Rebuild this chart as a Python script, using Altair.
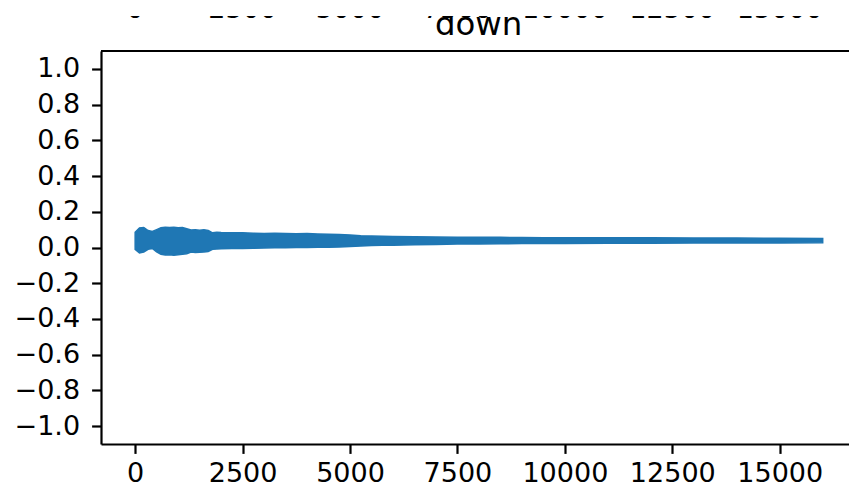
import altair as alt
import pandas as pd

# ---- data ----
xs = [0, 100, 200, 300, 400, 500, 600, 700, 800, 900, 1000, 1100, 1200, 1300, 1400,
      1500, 1600, 1700, 1800, 1900, 2000, 2250, 2500, 2750, 3000, 3250, 3500, 3750,
      4000, 4250, 4500, 4750, 5000, 5250, 5500, 5750, 6000, 6500, 7000, 7500, 8000,
      8500, 9000, 9500, 10000, 11000, 12000, 13000, 14000, 15000, 16000]
upper = [0.085, 0.110, 0.112, 0.095, 0.090, 0.100, 0.110, 0.113, 0.112, 0.114, 0.110,
         0.112, 0.105, 0.098, 0.100, 0.097, 0.100, 0.096, 0.082, 0.086, 0.084, 0.083,
         0.082, 0.080, 0.079, 0.080, 0.078, 0.077, 0.078, 0.076, 0.074, 0.073, 0.070,
         0.066, 0.065, 0.063, 0.062, 0.060, 0.059, 0.058, 0.058, 0.057, 0.056, 0.055,
         0.055, 0.054, 0.054, 0.053, 0.053, 0.052, 0.051]
lower = [-0.010, -0.030, -0.025, -0.010, -0.005, -0.025, -0.038, -0.042, -0.040, -0.043,
         -0.040, -0.038, -0.035, -0.025, -0.028, -0.026, -0.025, -0.022, -0.010, -0.008,
         -0.007, -0.006, -0.005, -0.004, -0.003, -0.002, -0.001, 0.000, 0.000, 0.001,
         0.002, 0.003, 0.006, 0.009, 0.011, 0.012, 0.013, 0.015, 0.017, 0.019, 0.020,
         0.021, 0.022, 0.023, 0.023, 0.024, 0.024, 0.025, 0.025, 0.025, 0.026]

x_ticks = [0, 2500, 5000, 7500, 10000, 12500, 15000]
y_ticks = [-1.0, -0.8, -0.6, -0.4, -0.2, 0.0, 0.2, 0.4, 0.6, 0.8, 1.0]
upper_panel_labels = ["0", "2500", "5000", "7500", "10000", "12500", "15000"]
title_text = ["down"]

W, H = 748, 393
FONT = "DejaVu Sans"
BLUE = "#1f77b4"

band = pd.DataFrame({"x": xs, "hi": upper, "lo": lower})
xscale = alt.Scale(domain=[-795, 16612], nice=False, zero=False)
yscale = alt.Scale(domain=[-1.1, 1.1], nice=False, zero=False)

x_axis = alt.Axis(values=x_ticks, title=None, grid=False, format="d",
                  labelFont=FONT, labelFontSize=27, labelColor="black",
                  tickSize=9.4, tickWidth=2.2, tickColor="black",
                  domainWidth=2.2, domainColor="black", labelPadding=7,
                  labelFlush=False, labelOverlap=False)
y_axis = alt.Axis(values=y_ticks, title=None, grid=False, format=".1f",
                  labelFont=FONT, labelFontSize=27, labelColor="black",
                  tickSize=9.4, tickWidth=2.2, tickColor="black",
                  domainWidth=2.2, domainColor="black", labelPadding=12,
                  labelFlush=False, labelOverlap=False)

area = alt.Chart(band).mark_area(color=BLUE, opacity=1, stroke=BLUE, strokeWidth=1.5).encode(
    x=alt.X("x:Q", scale=xscale, axis=x_axis),
    y=alt.Y("hi:Q", scale=yscale, axis=y_axis),
    y2="lo:Q",
)

upper_lbl = alt.Chart(pd.DataFrame({"x": x_ticks, "t": upper_panel_labels})).mark_text(
    font=FONT, fontSize=27, baseline="alphabetic", align="center", color="black"
).encode(x=alt.X("x:Q", scale=xscale, axis=x_axis), y=alt.value(18 - 51), text="t:N")

title = alt.Chart(pd.DataFrame({"t": title_text})).mark_text(
    font=FONT, fontSize=32.4, baseline="alphabetic", align="center", color="black"
).encode(x=alt.value(478.6 - 101), y=alt.value(35 - 51), text="t:N")

# white band hiding the top of the page (reference is cropped there)
mask = alt.Chart(pd.DataFrame({"k": [0]})).mark_rule(color="white", strokeWidth=32).encode(
    x=alt.value(-101), x2=alt.value(W), y=alt.value(-51)
)

top_spine = alt.Chart(pd.DataFrame({"k": [0]})).mark_rule(color="black", strokeWidth=2.2).encode(
    x=alt.value(0), x2=alt.value(W), y=alt.value(0)
)

chart = alt.layer(area, upper_lbl, title, mask, top_spine).properties(
    width=W, height=H,
    autosize=alt.AutoSizeParams(type="none"),
    padding={"left": 101, "top": 51, "right": 0, "bottom": 49},
).configure_view(strokeWidth=0)

chart.save("out.html", embed_options={"renderer": "svg", "actions": False})
